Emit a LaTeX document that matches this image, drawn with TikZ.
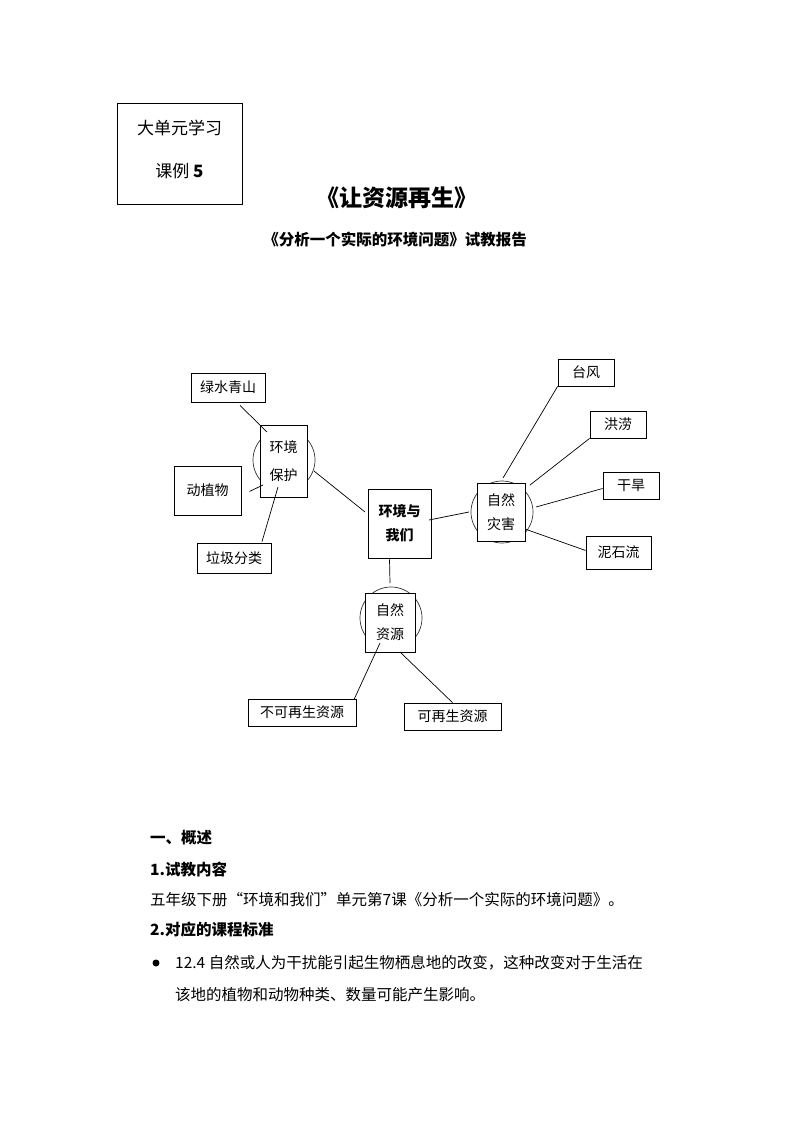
\documentclass[tikz,border=0pt]{standalone}
\usepackage{fontspec}
\newfontfamily\cjk{Noto Sans CJK SC}
\begin{document}
\begin{tikzpicture}[x=1pt,y=-1pt,
  bx/.style={draw,fill=white,line width=0.8pt,font=\cjk\fontsize{14}{20}\selectfont,align=center,inner sep=0pt},
  cir/.style={draw,black!80,line width=0.7pt,circle,minimum size=62pt,inner sep=0pt},
  ln/.style={line width=0.7pt},
  tx/.style={font=\cjk\fontsize{15.5}{18}\selectfont,anchor=west,inner sep=0pt}]
\useasboundingbox (0,0) rectangle (794,1123);
% header
\node[draw,line width=0.7pt,minimum width=125pt,minimum height=101pt,inner sep=0pt] (hb) at (179.5,153.5) {};
\node[font=\cjk\fontsize{17}{20}\selectfont] (h1) at (179.5,128) {大单元学习};
\node[font=\cjk\fontsize{17}{20}\selectfont] (h2) at (179.5,171) {课例 \textbf{5}};
\node[font=\cjk\bfseries\fontsize{23}{26}\selectfont] (title) at (397,198) {《让资源再生》};
\node[font=\cjk\bfseries\fontsize{15.5}{18}\selectfont] (sub) at (395,240) {《分析一个实际的环境问题》试教报告};
% circles
\node[cir] (c1) at (284,460) {};
\node[cir] (c2) at (502,512) {};
\node[cir] (c3) at (391,618) {};
% boxes
\node[bx,minimum width=47pt,minimum height=72pt] (hj) at (283.5,461) {环境\\[8pt]保护};
\node[bx,minimum width=48pt,minimum height=58pt] (zh) at (501,512) {自然\\[4pt]灾害};
\node[bx,minimum width=50pt,minimum height=59pt] (zy) at (390,622.5) {自然\\[4pt]资源};
\node[bx,font=\cjk\bfseries\fontsize{14}{20}\selectfont,minimum width=63pt,minimum height=69pt] (ct) at (399.5,523.5) {环境与\\[4pt]我们};
\node[bx,minimum width=74pt,minimum height=29pt] (ls) at (228,387.5) {绿水青山};
\node[bx,minimum width=67pt,minimum height=49pt] (dz) at (207.5,490.5) {动植物};
\node[bx,minimum width=74pt,minimum height=30pt] (lj) at (234,558) {垃圾分类};
\node[bx,minimum width=56pt,minimum height=27pt] (tf) at (586,372.5) {台风};
\node[bx,minimum width=56pt,minimum height=27pt] (hl) at (618,424.5) {洪涝};
\node[bx,minimum width=56pt,minimum height=27pt] (gh) at (631,485.5) {干旱};
\node[bx,minimum width=65pt,minimum height=33pt] (ns) at (618.5,552.5) {泥石流};
\node[bx,minimum width=108pt,minimum height=27pt] (bk) at (302,712.5) {不可再生资源};
\node[bx,minimum width=97pt,minimum height=27pt] (kz) at (452.5,716.5) {可再生资源};
% connectors
\coordinate (p1) at (267,432); \coordinate (p2) at (263,485); \coordinate (p3) at (278,487);
\coordinate (p4) at (314,471); \coordinate (p5) at (365,512); \coordinate (p6) at (429,520);
\coordinate (p7) at (469,512); \coordinate (p8) at (390,583); \coordinate (p9) at (503,478);
\coordinate (p10) at (530,485); \coordinate (p11) at (536,507); \coordinate (p12) at (525,529);
\coordinate (p13) at (380,643); \coordinate (p14) at (400,652);
\draw[ln] (ls.south) ++(12,3) -- (p1);
\draw[ln] (dz.east) ++(8,1) -- (p2);
\draw[ln] (lj.north) ++(28,-1) -- (p3);
\draw[ln] (p4) -- (p5);
\draw[ln] (p6) -- (p7);
\draw[ln] (ct.south) ++(-10,1) -- (p8);
\draw[ln] (tf.south west) -- (p9);
\draw[ln] (hl.south west) -- (p10);
\draw[ln] (gh.west) ++(0,3) -- (p11);
\draw[ln] (ns.west) ++(0,-2) -- (p12);
\draw[ln] (bk.north) ++(52,1) -- (p13);
\draw[ln] (kz.north) -- (p14);
% body text
\node[tx,font=\cjk\bfseries\fontsize{15.5}{18}\selectfont] (t1) at (150,838) {一、概述};
\node[tx,font=\cjk\bfseries\fontsize{15.5}{18}\selectfont] (t2) at (150,870) {1.试教内容};
\node[tx] (t3) at (150,900) {五年级下册“环境和我们”单元第7课《分析一个实际的环境问题》。};
\node[tx,font=\cjk\bfseries\fontsize{15.5}{18}\selectfont] (t4) at (150,930) {2.对应的课程标准};
\fill (156,963) circle (3.5pt);
\node[tx] (t5) at (175,963) {12.4 自然或人为干扰能引起生物栖息地的改变，这种改变对于生活在};
\node[tx] (t6) at (175,995) {该地的植物和动物种类、数量可能产生影响。};
\end{tikzpicture}
\end{document}
